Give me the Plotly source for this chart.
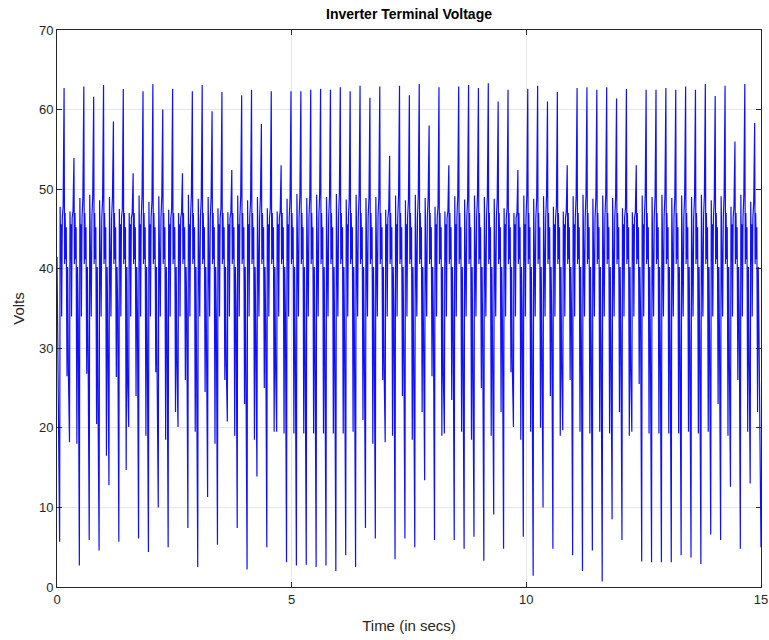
import plotly.graph_objects as go

# Inverter terminal voltage, one PWM-like cycle per peak.
# Peak voltage of each cycle (V)
peak_v = [62.7, 53.9, 62.9, 61.6, 63.1, 58.5, 62.6, 52.0, 62.3, 63.2,
          60.0, 62.6, 52.0, 62.3, 63.1, 59.8, 62.2, 52.4, 61.8, 62.5,
          58.2, 62.3, 53.0, 62.3, 62.3, 62.5, 62.6, 62.5, 62.8, 62.3,
          63.0, 61.5, 62.9, 54.2, 63.0, 61.8, 63.2, 58.0, 62.8, 53.0,
          62.9, 63.1, 62.7, 63.3, 61.0, 62.5, 52.4, 62.6, 63.0, 61.0,
          62.2, 53.0, 62.7, 62.8, 62.5, 62.8, 61.4, 62.6, 53.0, 62.5,
          62.5, 62.7, 62.5, 62.9, 62.5, 63.2, 61.7, 63.0, 56.0, 63.2,
          58.3]
# Deepest dip before each peak (V)
low_v = [5.7, 18.2, 2.7, 5.9, 4.6, 12.8, 5.7, 20.1, 6.1, 4.4,
         10.0, 5.0, 20.1, 7.4, 2.5, 11.3, 5.3, 20.8, 7.4, 2.2,
         13.9, 5.0, 19.5, 3.1, 2.7, 2.8, 2.5, 2.7, 2.0, 4.0,
         2.5, 7.4, 6.1, 18.2, 3.5, 6.1, 5.0, 13.4, 5.9, 19.3,
         5.9, 4.8, 6.3, 3.3, 9.1, 4.8, 20.1, 6.3, 1.4, 10.0,
         4.8, 19.7, 4.0, 2.0, 4.6, 0.7, 8.5, 5.9, 19.5, 3.2,
         3.1, 3.1, 3.1, 4.0, 3.7, 2.9, 6.6, 5.9, 12.6, 4.8,
         13.0]
# Intermediate dip after each peak (V)
mid_v = [26.5, 18.0, 26.8, 20.5, 16.5, 26.4, 14.7, 24.0, 19.0, 27.0,
         18.5, 22.0, 26.0, 19.5, 24.5, 18.0, 26.0, 19.0, 23.0, 18.5,
         25.0, 19.5, 19.3, 19.3, 19.3, 19.3, 19.3, 19.3, 19.3, 19.5,
         21.0, 18.0, 26.0, 19.0, 24.0, 18.5, 22.0, 26.5, 19.0, 23.5,
         19.5, 18.5, 25.0, 19.0, 22.0, 27.0, 18.5, 19.5, 20.0, 24.0,
         19.0, 26.0, 19.5, 19.3, 19.5, 19.3, 22.0, 19.0, 25.5, 19.3,
         19.3, 19.3, 19.3, 19.5, 19.3, 19.5, 23.0, 19.0, 26.0, 19.5,
         22.0]
# Shoulder level just before each peak (V)
hi_v = [47.8, 47.2, 48.9, 49.3, 48.6, 49.0, 47.5, 47.0, 49.2, 48.4,
        49.1, 47.4, 47.0, 49.3, 48.8, 49.0, 47.6, 47.1, 49.2, 48.6,
        49.0, 47.6, 47.2, 48.8, 49.4, 48.9, 49.3, 49.0, 49.4, 48.7,
        49.3, 48.9, 49.0, 47.4, 49.2, 48.6, 49.3, 48.9, 47.8, 47.2,
        49.1, 48.7, 49.2, 49.0, 48.8, 47.6, 47.0, 49.2, 48.8, 49.1,
        47.8, 47.2, 49.1, 49.3, 48.8, 49.2, 48.9, 47.6, 47.1, 49.2,
        49.0, 49.3, 48.9, 49.2, 49.0, 49.3, 48.6, 49.1, 47.8, 49.3,
        48.4]
# Level of the small rebound before each deep dip (V)
knee_v = [27.0, 33.5, 29.5, 24.0, 31.0, 35.0, 26.0, 34.0, 30.0, 25.5,
          33.0, 28.5, 34.5, 27.0, 30.5, 33.5, 28.0, 35.0, 26.5, 31.5,
          33.0, 28.0, 34.0, 30.0, 30.0, 30.5, 30.0, 30.0, 30.5, 30.0,
          29.0, 31.5, 27.5, 34.5, 30.0, 28.5, 31.0, 33.5, 27.0, 34.0,
          29.5, 28.0, 31.0, 29.0, 32.5, 27.5, 34.5, 29.0, 30.0, 33.0,
          28.0, 34.5, 30.0, 30.0, 30.5, 30.0, 31.5, 27.5, 34.0, 30.0,
          30.0, 30.5, 30.0, 30.0, 30.5, 30.0, 31.0, 28.0, 34.0, 29.0,
          32.0]

period = 0.2102      # s between peaks
first_peak = 0.151   # s
t_end = 15.0

# In-cycle waveform: (time offset from peak [s], level [V] or per-cycle key)
cycle_shape = [(-0.095, "low"), (-0.084, "hi"), (-0.074, 41.0), (-0.064, 45.6),
               (-0.052, 34.0), (-0.038, 46.4), (-0.020, "hi"), (0.0, "peak"),
               (0.010, 40.6), (0.022, 47.0), (0.034, 41.2), (0.046, 45.2),
               (0.062, "mid"), (0.076, 40.2), (0.092, "knee")]

t = [0.0, 0.02]
v = [41.5, 30.0]
for i, p in enumerate(peak_v):
    per_cycle = {"low": low_v[i], "peak": p, "mid": mid_v[i],
                 "hi": hi_v[i], "knee": knee_v[i]}
    tp = first_peak + i * period
    for dt, lvl in cycle_shape:
        tt = tp + dt
        if tt > t_end:
            continue
        t.append(tt)
        v.append(per_cycle[lvl] if isinstance(lvl, str) else lvl)
t.append(t_end)
v.append(5.0)

fig = go.Figure()
fig.add_trace(go.Scatter(x=t, y=v, mode="lines",
                         line=dict(color="#1010ff", width=1.2), showlegend=False))

axis_font = dict(family="Liberation Sans, Arial, sans-serif", size=13, color="#262626")
fig.update_layout(
    width=769, height=640,
    margin=dict(l=57, r=8, t=30, b=53, autoexpand=False),
    paper_bgcolor="white", plot_bgcolor="white",
    title=dict(text="<b>Inverter Terminal Voltage</b>", xref="paper", x=0.5, xanchor="center",
               y=0.978, yanchor="middle",
               font=dict(family="Liberation Sans, Arial, sans-serif", size=14, color="#000000")),
    font=axis_font,
)
fig.update_xaxes(range=[0, 15], tickvals=[0, 5, 10, 15], ticks="inside", ticklen=5,
                 tickcolor="#262626", showline=True, linecolor="#262626", linewidth=1,
                 mirror="ticks", showgrid=True, gridcolor="#e6e6e6", zeroline=False,
                 automargin=False,
                 title=dict(text="Time (in secs)", font=dict(size=15, color="#262626"), standoff=14))
fig.update_yaxes(range=[0, 70], tickvals=[0, 10, 20, 30, 40, 50, 60, 70], ticks="inside", ticklen=5,
                 tickcolor="#262626", showline=True, linecolor="#262626", linewidth=1,
                 mirror="ticks", showgrid=True, gridcolor="#e6e6e6", zeroline=False,
                 automargin=False,
                 title=dict(text="Volts", font=dict(size=15, color="#262626"), standoff=10))

fig.write_html("out.html")
